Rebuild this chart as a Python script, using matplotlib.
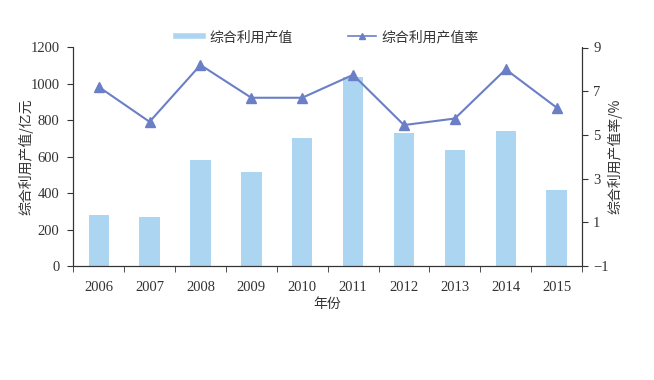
import numpy as np
import matplotlib.pyplot as plt
from matplotlib.lines import Line2D

years = ['2006', '2007', '2008', '2009', '2010', '2011', '2012', '2013', '2014', '2015']
output_value = [280, 268, 580, 516, 701, 1039, 730, 636, 743, 417]  # 亿元
output_rate = [7.2, 5.6, 8.2, 6.7, 6.7, 7.75, 5.45, 5.75, 8.0, 6.25]  # %

bar_color = '#abd5f0'
line_color = '#6b7fc6'
axis_color = '#333333'
cjk = ['Noto Sans CJK SC', 'DejaVu Sans']
num_font = ['Liberation Serif', 'DejaVu Serif']

fig = plt.figure(figsize=(6.54, 3.8), dpi=100)
ax = fig.add_axes([0.112, 0.30, 0.778, 0.575])
ax2 = ax.twinx()

x = np.arange(len(years))
ax.bar(x, output_value, width=0.4, color=bar_color, zorder=1)
ax2.plot(x, output_rate, color=line_color, lw=1.5, marker='^', ms=7,
         markerfacecolor=line_color, markeredgecolor=line_color, zorder=3)

ax.set_xlim(-0.5, len(years) - 0.5)
ax.set_ylim(0, 1200)
ax.set_yticks(range(0, 1201, 200))
ax2.set_ylim(-1, 9)
ax2.set_yticks([-1, 1, 3, 5, 7, 9])
ax2.set_yticklabels(['\u22121', '1', '3', '5', '7', '9'])

# year labels at bar centres, tick marks between bars
ax.set_xticks(x)
ax.set_xticklabels(years)
ax.set_xticks(np.arange(-0.5, len(years)), minor=True)
ax.tick_params(axis='x', which='major', length=0, pad=11)
ax.tick_params(axis='x', which='minor', length=4, direction='out', color=axis_color)
ax.tick_params(axis='y', length=4, direction='out', color=axis_color, pad=6)
ax2.tick_params(axis='y', length=4, direction='out', color=axis_color, pad=4)

for a in (ax, ax2):
    a.spines['top'].set_visible(False)
    for s in ('left', 'right', 'bottom'):
        a.spines[s].set_color(axis_color)
        a.spines[s].set_linewidth(0.8)
    for lab in a.get_xticklabels() + a.get_yticklabels():
        lab.set_family(num_font)
        lab.set_fontsize(10.5)
        lab.set_color('#333333')

ax.set_ylabel('综合利用产值/亿元', family=cjk, fontsize=10, color='#333333', labelpad=-2)
ax2.set_ylabel('综合利用产值率/%', family=cjk, fontsize=10, color='#333333',
               rotation=90, labelpad=-1)
ax.set_xlabel('年份', family=cjk, fontsize=10, color='#333333', labelpad=2)

handles = [Line2D([], [], color=bar_color, lw=4),
           Line2D([], [], color=line_color, lw=1.2, marker='^', ms=4)]
fig.legend(handles, ['综合利用产值', '综合利用产值率'], loc='center',
           bbox_to_anchor=(0.50, 1 - 37 / 380), ncol=2, frameon=False,
           prop={'family': cjk, 'size': 10}, handlelength=2.0,
           handletextpad=0.4, columnspacing=4.0, labelcolor='#333333')

fig.savefig('out.png', dpi=100)
